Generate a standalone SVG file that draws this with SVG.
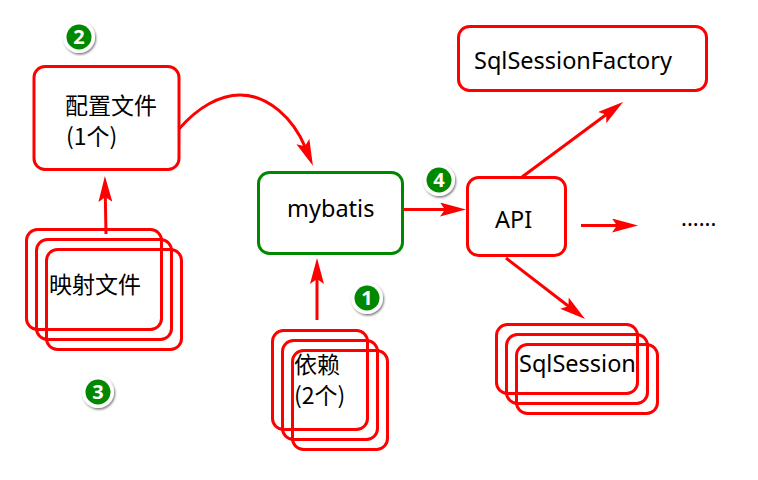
<svg xmlns="http://www.w3.org/2000/svg" width="758" height="480" viewBox="0 0 758 480">
<style>
.bg{fill:#fff}
.b{fill:none;stroke:#f00;stroke-width:3}
.g{fill:none;stroke:#080;stroke-width:3}
.t{font-family:"Noto Sans","Noto Sans CJK SC",sans-serif;font-size:23.500px;fill:#000}
.c{font-family:"Noto Sans CJK SC","Noto Sans",sans-serif;font-size:23px;fill:#000}
.d{font-family:"Noto Sans",sans-serif;font-size:22px;fill:#000}
.a{fill:none;stroke:#f00;stroke-width:3;marker-end:url(#h)}
.o{fill:#fff;filter:url(#s)}
.i{fill:#080}
.n{font-family:"Noto Sans",sans-serif;font-size:20px;font-weight:bold;fill:#fff;text-anchor:middle}
</style>
<defs>
<marker id="h" markerUnits="userSpaceOnUse" markerWidth="26" markerHeight="14" viewBox="0 0 26 14" refX="6" refY="7" orient="auto"><path d="M0 0L26 7L0 14L5 7z" fill="#f00"/></marker>
<filter id="s" x="-30%" y="-30%" width="170%" height="170%"><feDropShadow dx="1" dy="1.500" stdDeviation="1.200" flood-color="#000" flood-opacity=".55"/></filter>
</defs>
<rect class="bg" width="758" height="480"/>
<g id="connectors">
<path class="a" d="M179 129C198 107 220 95 240 95C268 95 293 118 305.200 147.200"/>
<path class="a" d="M106 234L105.300 196"/>
<path class="a" d="M317 320L317 278"/>
<path class="a" d="M403 209.500L446 209.500"/>
<path class="a" d="M522 177L607 114"/>
<path class="a" d="M581 225.500L618 225.500"/>
<path class="a" d="M506 258L569.200 306.800"/>
</g>
<g id="config"><rect class="b" x="34" y="66.500" width="145" height="103" rx="11"/><text class="c" x="65" y="114">配置文件</text><text class="c" x="66" y="145">(1个)</text></g>
<g id="mapping"><rect class="b" x="26.500" y="229.500" width="135" height="100" rx="11"/><rect class="b" x="36.500" y="239.500" width="135" height="100" rx="11"/><rect class="b" x="46.500" y="249.500" width="135" height="100" rx="11"/><text class="c" x="49" y="293">映射文件</text></g>
<g id="mybatis"><rect class="g" x="258.500" y="172.500" width="144" height="81" rx="11"/><text class="t" x="287" y="217">mybatis</text></g>
<g id="deps"><rect class="b" x="272.500" y="330.500" width="95" height="99" rx="11"/><rect class="b" x="282.500" y="340.500" width="95" height="99" rx="11"/><rect class="b" x="292.500" y="350.500" width="95" height="99" rx="11"/><text class="c" x="294" y="373">依赖</text><text class="c" x="294" y="404">(2个)</text></g>
<g id="api"><rect class="b" x="467.500" y="177.500" width="98" height="78" rx="11"/><text class="t" x="495" y="228">API</text></g>
<g id="factory"><rect class="b" x="458.500" y="26.500" width="248" height="64" rx="11"/><text class="t" x="474" y="69">SqlSessionFactory</text></g>
<g id="session"><rect class="b" x="496.500" y="324.500" width="141" height="69" rx="11"/><rect class="b" x="506.500" y="334.500" width="141" height="69" rx="11"/><rect class="b" x="516.500" y="344.500" width="141" height="69" rx="11"/><text class="t" x="519" y="372">SqlSession</text></g>
<g id="more"><text class="d" x="681" y="226">......</text></g>
<g id="b1"><circle class="o" cx="367" cy="298" r="16"/><circle class="i" cx="367" cy="298" r="12.500"/><text class="n" x="367" y="305">1</text></g>
<g id="b2"><circle class="o" cx="79" cy="37" r="16"/><circle class="i" cx="79" cy="37" r="12.500"/><text class="n" x="79" y="44">2</text></g>
<g id="b3"><circle class="o" cx="98" cy="392" r="16"/><circle class="i" cx="98" cy="392" r="12.500"/><text class="n" x="98" y="399">3</text></g>
<g id="b4"><circle class="o" cx="439" cy="180" r="16"/><circle class="i" cx="439" cy="180" r="12.500"/><text class="n" x="439" y="187">4</text></g>
</svg>
